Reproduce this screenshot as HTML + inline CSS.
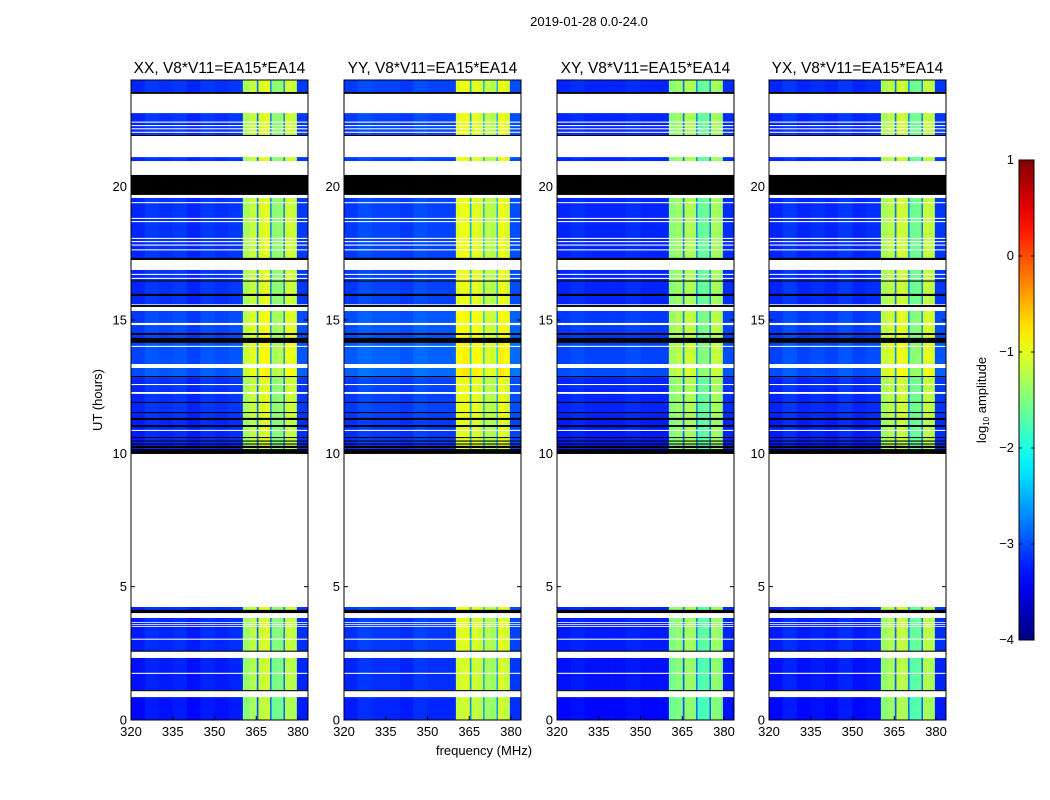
<!DOCTYPE html>
<html><head><meta charset="utf-8">
<style>
body{margin:0;background:#fff;}
svg{display:block;font-family:"Liberation Sans","DejaVu Sans",sans-serif;}
</style></head>
<body>
<svg id="chart" width="1050" height="800" viewBox="0 0 1050 800" xmlns="http://www.w3.org/2000/svg">
<rect width="1050" height="800" fill="#fff"/>
<text x="589" y="26" font-size="13" text-anchor="middle">2019-01-28 0.0-24.0</text>
<text transform="translate(102,400) rotate(-90)" font-size="13" text-anchor="middle">UT (hours)</text>
<text x="484" y="755" font-size="13" text-anchor="middle">frequency (MHz)</text>
<g id="panels"></g>
<g id="cbar"></g>
</svg>
<script>
// ---- data ----
const panelTitles = ["XX, V8*V11=EA15*EA14","YY, V8*V11=EA15*EA14","XY, V8*V11=EA15*EA14","YX, V8*V11=EA15*EA14"];
const freqEdges = [320,325,330,335,340,345,350,355,360.2,362.8,365.2,365.8,368,370,370.5,372.6,374.8,375.3,377.5,379.6,383.6];
const ampXX = [-3.2,-3.1,-3.15,-3.1,-3.2,-3.1,-3.15,-3.1,-1.3,-1.15,-2.8,-1.05,-1.0,-2.8,-1.45,-1.4,-2.8,-1.1,-1.15,-3.1];
const ampYY = [-3.1,-3.0,-3.05,-3.05,-3.1,-3.0,-3.05,-3.05,-1.0,-0.95,-2.5,-1.0,-1.05,-2.5,-1.2,-1.25,-2.5,-0.95,-1.05,-3.0];
const ampXY = [-3.2,-3.15,-3.2,-3.2,-3.2,-3.15,-3.2,-3.2,-1.45,-1.35,-2.8,-1.25,-1.3,-2.8,-1.65,-1.6,-2.8,-1.3,-1.35,-3.15];
const ampYX = [-3.2,-3.1,-3.2,-3.15,-3.2,-3.1,-3.2,-3.15,-1.3,-1.2,-2.8,-1.1,-1.15,-2.8,-1.6,-1.55,-2.8,-1.15,-1.2,-3.1];
const panelAmps = [ampXX, ampYY, ampXY, ampYX];
// data segments in UT hours [start, end, offset]
const dataSegs = [[23.55,24.0,0],[21.94,22.76,0],[20.96,21.11,0],[17.33,19.58,0],[16.13,16.88,0],[15.90,16.13,0],
  [15.60,15.90,0],[14.33,15.34,0.1],[13.35,14.14,0.15],[12.9,13.2,0.2],[11.25,12.86,0],[9.98,11.25,-0.05],
  [4.13,4.24,0],[2.59,3.83,-0.05],[1.13,2.33,-0.1],[0,0.86,-0.15]];
const whiteLines = [[23.48,23.55],[22.40,22.44],[22.27,22.31],[22.15,22.19],[22.02,22.06],[21.90,21.94],[21.11,21.90],
  [20.96,20.44],[19.58,19.69],[19.38,19.42],[18.79,18.83],[18.67,18.71],[18.04,18.08],[17.92,17.96],[17.79,17.83],[17.61,17.65],
  [16.88,17.25],[16.69,16.73],[16.54,16.58],[15.34,15.49],[14.81,14.89],[13.99,14.03],[13.31,13.35],[13.20,13.24],
  [12.56,12.60],[12.23,12.30],[10.84,10.88],[4.24,9.98],[3.83,4.01],[3.64,3.67],[3.56,3.59],[3.49,3.52],[3.01,3.05],
  [2.33,2.51],[1.73,1.77],[0.86,1.05],[22.76,23.48]];
const blackLines = [[23.48,23.55],[21.90,21.94],[19.69,20.44],[17.25,17.33],[16.44,16.48],[15.90,15.98],[15.49,15.56],
  [14.44,14.51],[14.14,14.33],[12.86,12.9],[11.89,11.93],[11.51,11.55],[11.25,11.33],[10.99,11.06],[10.58,10.61],
  [10.44,10.48],[10.33,10.37],[10.2,10.28],[9.98,10.16],[4.01,4.13],[2.56,2.60],[1.08,1.12]];
const yTicks = [0,5,10,15,20];
const xTicks = [320,335,350,365,380];
const cbarTicks = [1,0,-1,-2,-3,-4];
// ---- geometry ----
const panelX = [131,344,557,769], PW = 177, PY0 = 80, PY1 = 720;
const fmin = 320, fmax = 383.6, vmin = -4, vmax = 1;
const NS = "http://www.w3.org/2000/svg";
function yScale(h){return PY1 - (h/24)*(PY1-PY0);}
function xScale(f, i){return panelX[i] + (f-fmin)/(fmax-fmin)*PW;}
function clip(v){return Math.max(0,Math.min(1,v));}
function jet(val){
  const v = clip((val-vmin)/(vmax-vmin));
  const r = clip(1.5-Math.abs(4*v-3)), g = clip(1.5-Math.abs(4*v-2)), b = clip(1.5-Math.abs(4*v-1));
  return "rgb("+Math.round(r*255)+","+Math.round(g*255)+","+Math.round(b*255)+")";
}
function mk(tag, attrs, parent){const e=document.createElementNS(NS,tag);for(const k in attrs)e.setAttribute(k,attrs[k]);parent.appendChild(e);return e;}
const panels = document.getElementById("panels");
panelTitles.forEach((t,i)=>{
  const g = mk("g",{},panels);
  
  
  const amps = panelAmps[i];
  dataSegs.forEach((s,si)=>{
    for(let c=0;c<amps.length;c++){
      const x0 = xScale(freqEdges[c],i), x1 = xScale(freqEdges[c+1],i);
      const y0 = yScale(s[1]), y1 = yScale(s[0]);
      const r = mk("rect",{x:x0,y:y0,width:x1-x0+0.3,height:y1-y0+0.3,fill:jet(amps[c]+s[2])},g);
      
      
    }
  });
  whiteLines.forEach(w=>{
    const a=Math.min(w[0],w[1]), b=Math.max(w[0],w[1]);
    const r = mk("rect",{x:panelX[i],y:yScale(b),width:PW,height:yScale(a)-yScale(b),fill:"#fff"},g);
    
    
  });
  blackLines.forEach(w=>{
    const r = mk("rect",{x:panelX[i],y:yScale(w[1]),width:PW,height:Math.max(1,yScale(w[0])-yScale(w[1])),fill:"#000"},g);
    
    
  });
  const fr = mk("rect",{x:panelX[i],y:PY0,width:PW,height:PY1-PY0,fill:"none",stroke:"#000","stroke-width":1},g);
  
  
  const tt = mk("text",{x:panelX[i]+PW/2,y:73,"font-size":15.5,"text-anchor":"middle"},g);
  tt.textContent = t;
  
  
  yTicks.forEach(h=>{
    const y = yScale(h);
    mk("line",{x1:panelX[i],x2:panelX[i]+4,y1:y,y2:y,stroke:"#000"},g);
    mk("line",{x1:panelX[i]+PW-4,x2:panelX[i]+PW,y1:y,y2:y,stroke:"#000"},g);
    const l = mk("text",{x:panelX[i]-4,y:y+4.5,"font-size":13,"text-anchor":"end"},g);
    l.textContent = h;
    
    
  });
  xTicks.forEach(f=>{
    const x = xScale(f,i);
    mk("line",{x1:x,x2:x,y1:PY1,y2:PY1-4,stroke:"#000"},g);
    const l = mk("text",{x:x,y:736,"font-size":13,"text-anchor":"middle"},g);
    l.textContent = f;
    
    
  });
});
// colorbar
const cb = document.getElementById("cbar");
const CBX=1019, CBW=15, CBY0=160, CBY1=640;
const defs = mk("defs",{},cb);
const lg = mk("linearGradient",{id:"jetg",x1:0,y1:1,x2:0,y2:0},defs);
for(let k=0;k<=20;k++){mk("stop",{offset:k/20,"stop-color":jet(vmin+(vmax-vmin)*k/20)},lg);}
mk("rect",{x:CBX,y:CBY0,width:CBW,height:CBY1-CBY0,fill:"url(#jetg)",stroke:"#000"},cb);
cbarTicks.forEach(v=>{
  const y = CBY1-(v-vmin)/(vmax-vmin)*(CBY1-CBY0);
  mk("line",{x1:CBX,x2:CBX+3,y1:y,y2:y,stroke:"#000"},cb);
  mk("line",{x1:CBX+CBW-3,x2:CBX+CBW,y1:y,y2:y,stroke:"#000"},cb);
  const l = mk("text",{x:CBX-5,y:y+4,"font-size":13,"text-anchor":"end"},cb);
  l.textContent = v<0 ? "\u2212"+(-v) : v;
  
  
});
const ct = mk("text",{transform:"translate(986,400) rotate(-90)","font-size":13,"text-anchor":"middle"},cb);
ct.innerHTML = 'log<tspan font-size="8" dy="3">10</tspan><tspan dy="-3"> amplitude</tspan>';


</script>
</body></html>
